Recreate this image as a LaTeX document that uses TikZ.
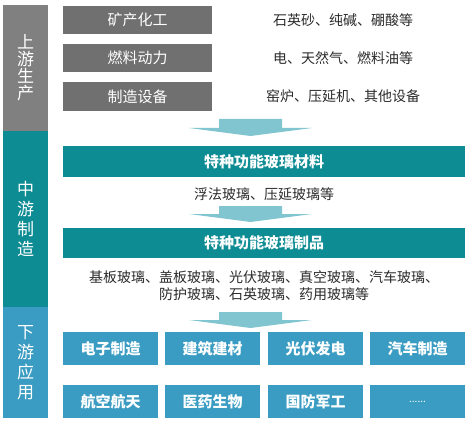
\documentclass[tikz,border=0pt]{standalone}
\usepackage{fontspec}
\newfontfamily\cjk{Noto Sans CJK SC}
\usetikzlibrary{positioning}
\definecolor{grayside}{HTML}{808080}
\definecolor{graybox}{HTML}{707070}
\definecolor{tealc}{HTML}{0E8C94}
\definecolor{bluec}{HTML}{3A9CC2}
\definecolor{arrowc}{HTML}{80C5D0}
\definecolor{textc}{HTML}{2B2B2B}

\begin{document}
\begin{tikzpicture}[x=1pt,y=-1pt,
  every node/.style={font=\cjk},
  side/.style={minimum width=45pt,inner sep=0pt,text=white,align=center,
    font=\cjk\fontsize{17}{20}\selectfont},
  upbox/.style={fill=graybox,minimum width=149pt,minimum height=28pt,inner sep=0pt,
    text=white,font=\cjk\fontsize{15}{15}\selectfont},
  midbox/.style={fill=tealc,minimum width=402pt,minimum height=30pt,inner sep=0pt,
    text=white,font=\cjk\bfseries\fontsize{15}{15}\selectfont},
  lowbox/.style={fill=bluec,minimum width=95pt,minimum height=33pt,inner sep=0pt,
    text=white,font=\cjk\bfseries\fontsize{15}{15}\selectfont},
  note/.style={text=textc,align=center,font=\cjk\fontsize{14}{16.5}\selectfont},
  bigarrow/.style={fill=arrowc}]
\useasboundingbox (0,0) rectangle (468,422);

% left column
\node[side,fill=grayside,minimum height=126pt,font=\cjk\fontsize{17}{17}\selectfont] (up) at (25.5,68) {上\\游\\生\\产};
\node[side,fill=tealc,minimum height=176pt] (mid) at (25.5,219) {中\\游\\制\\造};
\node[side,fill=bluec,minimum height=111pt] (down) at (25.5,362.5) {下\\游\\应\\用};

% upstream
\node[upbox] (mine) at (137.5,20) {矿产化工};
\node[upbox] (fuel) at (137.5,58) {燃料动力};
\node[upbox,minimum height=29pt] (equip) at (137.5,96.5) {制造设备};
\node[note] (mine_t) at (343,20) {石英砂、纯碱、硼酸等};
\node[note] (fuel_t) at (343,58) {电、天然气、燃料油等};
\node[note] (equip_t) at (343,96) {窑炉、压延机、其他设备};

% midstream
\node[midbox,minimum height=31pt] (mat) at (264,161.5) {特种功能玻璃材料};
\node[note] (mat_t) [below=7pt of mat] {浮法玻璃、压延玻璃等};
\node[midbox] (prod) at (264,243) {特种功能玻璃制品};
\node[note] (prod_t) [below=9pt of prod] {基板玻璃、盖板玻璃、光伏玻璃、真空玻璃、汽车玻璃、\\防护玻璃、石英玻璃、药用玻璃等};

% downstream
\node[lowbox] (d1) at (110.5,348.5) {电子制造};
\node[lowbox] (d2) at (212.5,348.5) {建筑建材};
\node[lowbox] (d3) at (315.5,348.5) {光伏发电};
\node[lowbox] (d4) at (417.5,348.5) {汽车制造};
\node[lowbox] (d5) at (110.5,401.5) {航空航天};
\node[lowbox] (d6) at (212.5,401.5) {医药生物};
\node[lowbox] (d7) at (315.5,401.5) {国防军工};
\node[lowbox,font=\cjk\fontsize{10}{10}\selectfont] (d8) at (417.5,401.5) {......};

% arrows
\coordinate (tip1) at (250.5,136);
\coordinate (tip2) at (250.5,222);
\coordinate (tip3) at (250.5,328);
\foreach \t/\h in {tip1/17, tip2/16, tip3/16}{
  \fill[bigarrow] (\t) ++(-61.5,-8) -- ++(30,0) -- ++(0,-\h+8) -- ++(63,0)
    -- ++(0,\h-8) -- ++(30,0) -- (\t) -- cycle;
}
\end{tikzpicture}
\end{document}
